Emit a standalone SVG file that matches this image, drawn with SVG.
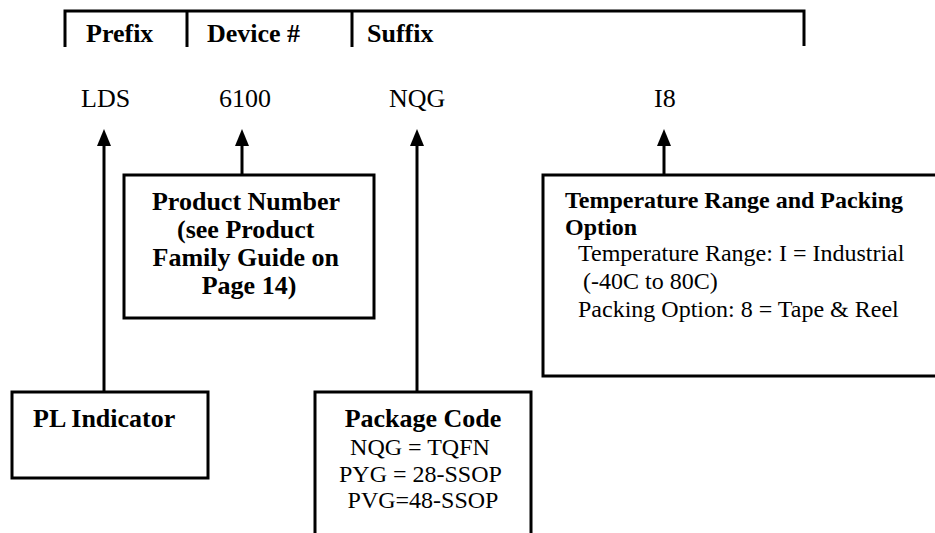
<svg xmlns="http://www.w3.org/2000/svg" width="935" height="533" viewBox="0 0 935 533">
<style>
.t{font-family:"Liberation Serif","Times New Roman",serif;fill:#000}
.b{font-weight:bold}
.box{fill:#fff;stroke:#000;stroke-width:3}
.ln{stroke:#000;stroke-width:3;fill:none}
</style>
<defs>
<marker id="ah" markerWidth="14" markerHeight="17" refX="7" refY="0" orient="auto-start-reverse" markerUnits="userSpaceOnUse" viewBox="0 0 14 17">
<path d="M7,0 L14,17 L0,17 Z" fill="#000"/>
</marker>
</defs>
<rect width="935" height="533" fill="#fff"/>
<g id="header">
<path class="ln" d="M65,47 V11 H804 V46 M187,11 V47 M352,11 V47"/>
<text class="t b" x="86" y="42" font-size="26">Prefix</text>
<text class="t b" x="207" y="42" font-size="26">Device #</text>
<text class="t b" x="367" y="42" font-size="26">Suffix</text>
</g>
<g id="codes">
<text class="t" x="81" y="107" font-size="26">LDS</text>
<text class="t" x="219" y="107" font-size="26">6100</text>
<text class="t" x="389" y="107" font-size="26">NQG</text>
<text class="t" x="654" y="107" font-size="26">I8</text>
</g>
<g id="connectors">
<line class="ln" x1="104" y1="392" x2="104" y2="146"/>
<path d="M104,129 L111,146 L97,146 Z"/>
<line class="ln" x1="242" y1="175" x2="242" y2="146"/>
<path d="M242,129 L249,146 L235,146 Z"/>
<line class="ln" x1="417" y1="392" x2="417" y2="146"/>
<path d="M417,129 L424,146 L410,146 Z"/>
<line class="ln" x1="664" y1="175" x2="664" y2="146"/>
<path d="M664,129 L671,146 L657,146 Z"/>
</g>
<g id="product">
<rect class="box" x="124" y="175" width="250" height="143"/>
<text class="t b" font-size="26" text-anchor="middle">
<tspan x="249" y="210">Product Number</tspan>
<tspan x="249" y="238">(see Product</tspan>
<tspan x="249" y="266">Family Guide on</tspan>
<tspan x="249" y="294">Page 14)</tspan>
</text>
</g>
<g id="temperature">
<rect class="box" x="543" y="175" width="400" height="201"/>
<text class="t b" font-size="24" x="565" y="208">Temperature Range and Packing</text>
<text class="t b" font-size="24" x="565" y="235">Option</text>
<text class="t" font-size="24" x="578" y="261">Temperature Range: I = Industrial</text>
<text class="t" font-size="24" x="583" y="289">(-40C to 80C)</text>
<text class="t" font-size="24" x="578" y="317">Packing Option: 8 = Tape &amp; Reel</text>
</g>
<g id="pl">
<rect class="box" x="12" y="392" width="196" height="86"/>
<text class="t b" font-size="26" x="33" y="427">PL Indicator</text>
</g>
<g id="package">
<rect class="box" x="315" y="392" width="216" height="160"/>
<text class="t b" font-size="26" x="423" y="427" text-anchor="middle">Package Code</text>
<text class="t" font-size="24" text-anchor="middle">
<tspan x="423" y="455">NQG = TQFN</tspan>
<tspan x="423" y="482">PYG = 28-SSOP</tspan>
<tspan x="423" y="508">PVG=48-SSOP</tspan>
</text>
</g>
</svg>
